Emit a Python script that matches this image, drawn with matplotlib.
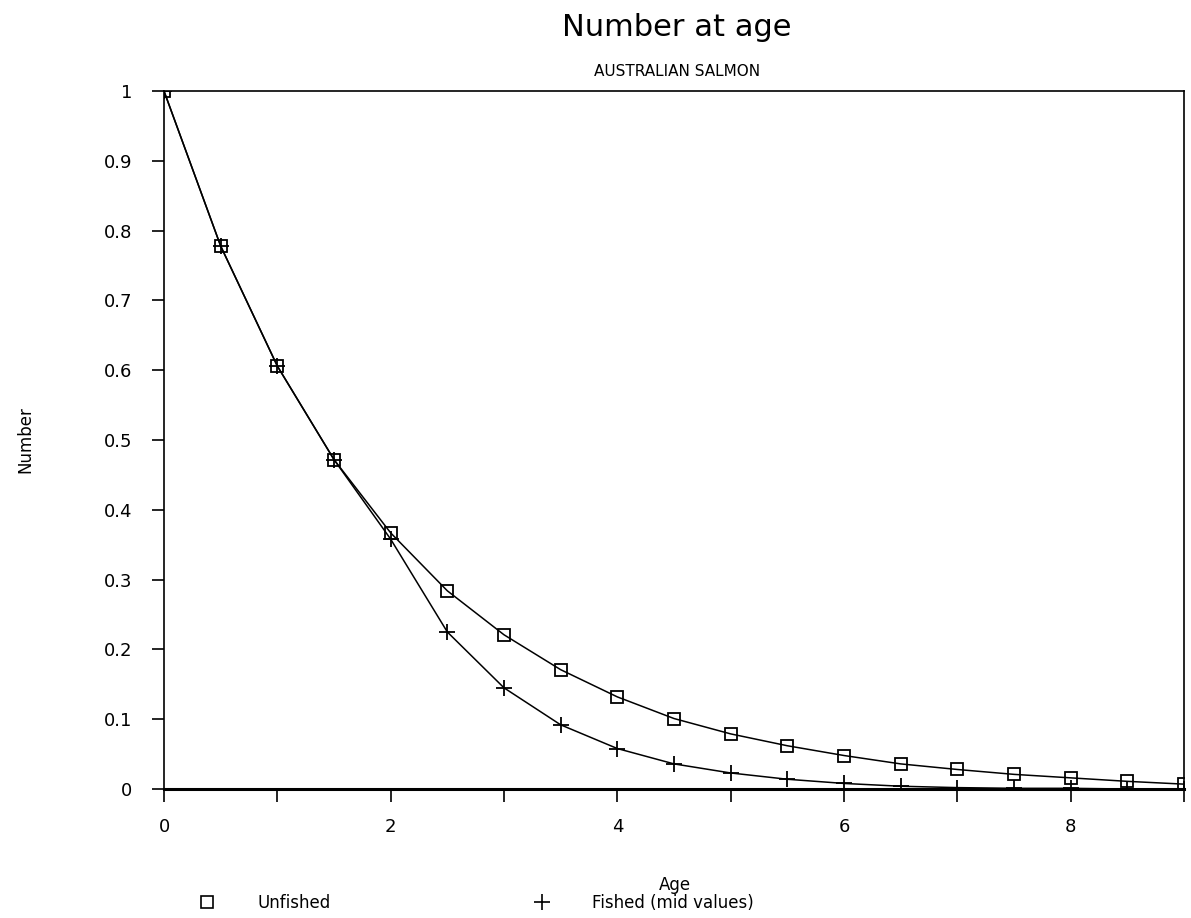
import matplotlib
matplotlib.use("Agg")
import matplotlib.pyplot as plt
from matplotlib.lines import Line2D

age = [0, 0.5, 1, 1.5, 2, 2.5, 3, 3.5, 4, 4.5, 5, 5.5, 6, 6.5, 7, 7.5, 8, 8.5, 9]
unfished = [1.0, 0.778, 0.606, 0.472, 0.367, 0.284, 0.221, 0.171, 0.132, 0.101,
            0.079, 0.062, 0.048, 0.036, 0.028, 0.021, 0.016, 0.011, 0.007]
fished = [1.0, 0.778, 0.606, 0.472, 0.358, 0.225, 0.145, 0.092, 0.058, 0.036,
          0.023, 0.014, 0.008, 0.004, 0.002, 0.001, 0.001, 0.0, 0.0]

x_ticks = list(range(0, 10))
x_labels = [str(t) if t % 2 == 0 else "" for t in x_ticks]
y_ticks = [i / 10 for i in range(11)]
y_labels = ["0"] + ["0.%d" % i for i in range(1, 10)] + ["1"]

plt.rcParams['font.family'] = ['DejaVu Sans']

fig = plt.figure(figsize=(11.91, 9.18), dpi=100)
ax = fig.add_axes([0.1377, 0.1405, 0.8564, 0.7603])

ax.plot(age, unfished, color='black', lw=1.1, marker='s', markersize=9,
        markerfacecolor='none', markeredgecolor='black', markeredgewidth=1.3)
ax.plot(age, fished, color='black', lw=1.1, marker='+', markersize=11,
        markeredgewidth=1.3)

ax.set_xlim(0, 9)
ax.set_ylim(0, 1)
ax.set_xticks(x_ticks)
ax.set_xticklabels(x_labels)
ax.set_yticks(y_ticks)
ax.set_yticklabels(y_labels)
ax.tick_params(direction='out', length=9, width=1.2, labelsize=13, pad=14, colors='black')
ax.tick_params(axis='x', pad=12)

for s in ax.spines.values():
    s.set_linewidth(1.2)
ax.spines['bottom'].set_linewidth(2.2)

fig.text(0.5685, 0.9695, "Number at age", ha='center', va='center', fontsize=22)
fig.text(0.5685, 0.9216, "AUSTRALIAN SALMON", ha='center', va='center', fontsize=11)
fig.text(0.567, 0.036, "Age", ha='center', va='center', fontsize=12)
fig.text(0.021, 0.521, "Number", ha='center', va='center', rotation=90, fontsize=12)

handles = [Line2D([], [], ls='none', marker='s', markersize=8, markerfacecolor='none',
                  markeredgecolor='black', markeredgewidth=1.2),
           Line2D([], [], ls='none', marker='+', markersize=11, color='black',
                  markeredgewidth=1.2)]
fig.legend(handles, ["Unfished", "Fished (mid values)"], ncol=2, frameon=False,
           loc='center left', bbox_to_anchor=(0.16, 0.0163), fontsize=12,
           handlelength=2.0, handletextpad=2.0, columnspacing=11.7,
           borderpad=0, borderaxespad=0)

fig.savefig("out.png", dpi=100)
